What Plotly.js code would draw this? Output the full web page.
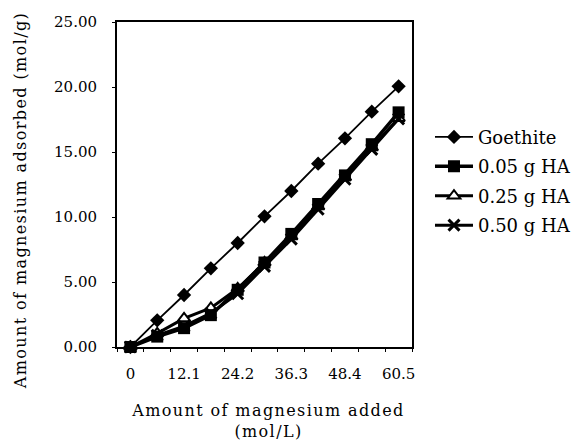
<!DOCTYPE html>
<html>
<head>
<meta charset="utf-8">
<script src="https://cdn.plot.ly/plotly-3.0.1.min.js"></script>
<style>html,body{margin:0;padding:0;background:#fff;}#chart{width:575px;height:442px;}</style>
</head>
<body>
<div id="chart"></div>
<script>
const magnesiumAdded = [0, 6.05, 12.1, 18.15, 24.2, 30.25, 36.3, 42.35, 48.4, 54.45, 60.5];
const goethite = [0, 2.05, 4.0, 6.05, 8.0, 10.05, 12.0, 14.1, 16.05, 18.1, 20.05];
const ha005 = [0, 0.8, 1.45, 2.45, 4.4, 6.5, 8.7, 11.0, 13.2, 15.6, 18.05];
const ha025 = [0, 1.05, 2.2, 3.0, 4.5, 6.5, 8.5, 10.8, 13.05, 15.35, 17.6];
const ha050 = [0, 0.9, 1.6, 2.6, 4.1, 6.2, 8.3, 10.6, 12.9, 15.2, 17.55];
const seriesNames = ["Goethite", "0.05 g HA", "0.25 g HA", "0.50 g HA"];
const xTickVals = [0, 12.1, 24.2, 36.3, 48.4, 60.5];
const xTickText = ["0", "12.1", "24.2", "36.3", "48.4", "60.5"];
const yTickVals = [0, 5, 10, 15, 20, 25];

const FONT = "DejaVu Serif, Liberation Serif, serif";

const traces = [
  {x: magnesiumAdded, y: ha025, name: seriesNames[2], legendrank: 3, legendgroup: "c", mode: "lines+markers",
   line: {color: "#000", width: 3},
   marker: {symbol: "triangle-up", size: 11, color: "#fff", line: {color: "#000", width: 2}}},
  {x: magnesiumAdded, y: ha050, name: seriesNames[3], legendrank: 4, legendgroup: "d", mode: "lines+markers",
   line: {color: "#000", width: 3},
   marker: {symbol: "x-thin", size: 11, color: "#000", line: {color: "#000", width: 3}}},
  {x: magnesiumAdded, y: ha005, name: seriesNames[1], legendrank: 2, legendgroup: "b", mode: "lines+markers",
   line: {color: "#000", width: 3.5},
   marker: {symbol: "square", size: 12, color: "#000"}},
  {x: magnesiumAdded, y: goethite, name: seriesNames[0], legendrank: 1, legendgroup: "a", mode: "lines+markers",
   line: {color: "#000", width: 1.8},
   marker: {symbol: "diamond", size: 11, color: "#000"}}
];
traces.forEach(t => t.cliponaxis = false);

const layout = {
  width: 575, height: 442,
  paper_bgcolor: "#fff", plot_bgcolor: "#fff",
  margin: {l: 117, r: 163, t: 22, b: 95, autoexpand: false},
  font: {family: FONT, color: "#000", size: 15},
  showlegend: true,
  legend: {x: 1.061, y: 0.51, xanchor: "left", yanchor: "middle", traceorder: "grouped",
           font: {family: FONT, size: 18, color: "#000"},
           itemwidth: 38, tracegroupgap: 3, bgcolor: "rgba(0,0,0,0)"},
  xaxis: {
    range: [-3.025, 63.525], tickmode: "array", tickvals: xTickVals, ticktext: xTickText,
    ticks: "", showgrid: false, zeroline: false,
    showline: true, linecolor: "#000", linewidth: 2, mirror: true,
    minor: {ticks: "outside", tick0: -3.025, dtick: 6.05, ticklen: 3, tickcolor: "#000", tickwidth: 1, showgrid: false},
    tickfont: {family: FONT, size: 15}, ticklabelstandoff: 12,
    title: {text: "Amount of magnesium added<br>(mol/L)", font: {family: FONT, size: 16}, standoff: 21}
  },
  yaxis: {
    range: [0, 25], tickmode: "array", tickvals: yTickVals, tickformat: ".2f",
    ticks: "outside", ticklen: 3, tickcolor: "#000", tickwidth: 1,
    showgrid: false, zeroline: false,
    showline: true, linecolor: "#000", linewidth: 2, mirror: true,
    tickfont: {family: FONT, size: 15}, ticklabelstandoff: 12,
    title: {text: "Amount of magnesium adsorbed (mol/g)", font: {family: FONT, size: 16}, standoff: 14}
  }
};

Plotly.newPlot("chart", traces, layout, {displayModeBar: false, staticPlot: true}).then(() => {
  document.querySelectorAll(".g-xtitle text").forEach(el => el.setAttribute("letter-spacing", "1.4"));
  document.querySelectorAll(".g-ytitle text").forEach(el => el.setAttribute("letter-spacing", "1.4"));
  const yt = document.querySelector(".g-ytitle");
  if (yt) yt.setAttribute("transform", "translate(-9,15.5)");
  const xt = document.querySelector(".g-xtitle");
  if (xt) xt.setAttribute("transform", "translate(4,2)");
});
</script>
</body>
</html>
